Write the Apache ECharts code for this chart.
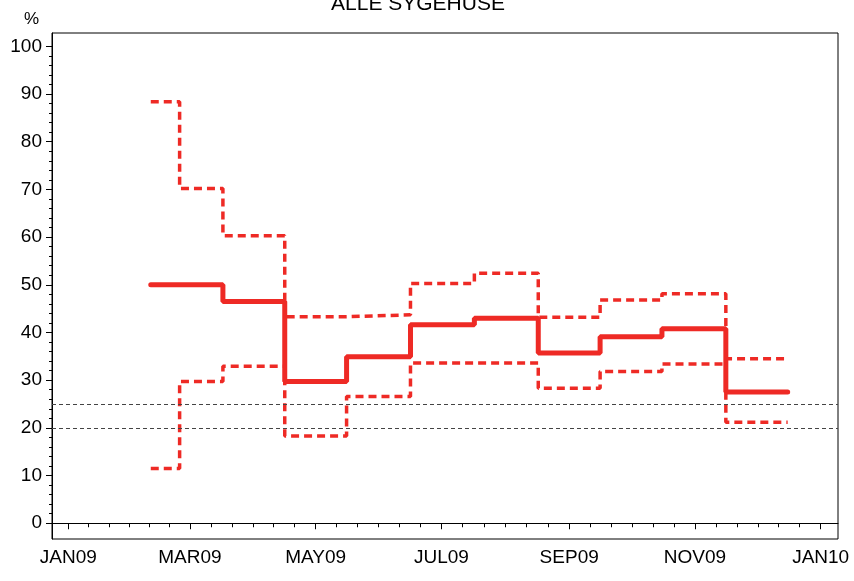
<!DOCTYPE html>
<html>
<head>
<meta charset="utf-8">
<script src="https://cdn.jsdelivr.net/npm/echarts@6/dist/echarts.min.js"></script>
<style>html,body{margin:0;padding:0;background:#fff;}#chart{width:854px;height:581px;}</style>
</head>
<body>
<div id="chart"></div>
<script>
// ---- data ----
const boundaries = ['2009-02-10','2009-02-24','2009-03-17','2009-04-16','2009-05-16','2009-06-16','2009-07-17','2009-08-17','2009-09-16','2009-10-16','2009-11-16','2009-12-16'];
const mainValues  = [50, 50, 46.5, 29.7, 34.9, 41.6, 43.0, 35.7, 39.1, 40.8, 27.5];
const upperValues = [88.4, 70.2, 60.3, 43.3, 43.7, 50.3, 52.4, 43.2, 46.8, 48.1, 34.5];
const lowerValues = [11.5, 29.7, 32.9, 18.3, 26.6, 33.6, 33.6, 28.3, 31.8, 33.4, 21.2];
const refLines = [20, 25];
const xTickDates  = ['2009-01-01','2009-03-01','2009-05-01','2009-07-01','2009-09-01','2009-11-01','2010-01-01'];
const xTickLabels = ['JAN09','MAR09','MAY09','JUL09','SEP09','NOV09','JAN10'];
const yTickValues = [0,10,20,30,40,50,60,70,80,90,100];
const titleText = 'ALLE SYGEHUSE';
const yUnit = '%';

// ---- build ----
const FONT = "'Liberation Sans', Arial, Helvetica, sans-serif";
const RED = '#ee2a25';
const ts = s => Date.parse(s);
function stepData(vals) {
  const d = vals.map((v, i) => [ts(boundaries[i]), v]);
  d.push([ts(boundaries[boundaries.length - 1]), vals[vals.length - 1]]);
  return d;
}
const xMajor = xTickDates.map(ts);
const xMinor = [];
for (let i = 0; i < xMajor.length - 1; i++) {
  for (let k = 1; k < 6; k++) xMinor.push(xMajor[i] + (xMajor[i + 1] - xMajor[i]) * k / 6);
}
const yMinor = [];
for (let v = 0; v <= 100; v += 2) if (v % 10 !== 0) yMinor.push(v);

const xMin = Date.UTC(2008, 11, 24, 2);
const xMax = Date.UTC(2010, 0, 9, 10);
const yMin = -3.3, yMax = 102.8;

const chart = echarts.init(document.getElementById('chart'), null, {renderer: 'canvas'});
const option = {
  animation: false,
  backgroundColor: '#fff',
  grid: {left: 52, right: 16, top: 33, bottom: 42, show: true, borderColor: '#000', borderWidth: 1, backgroundColor: 'transparent'},
  graphic: [
    {type: 'text', x: 418, y: -6, style: {text: titleText, font: '21px ' + FONT, fill: '#000', textAlign: 'center'}},
    {type: 'text', x: 24, y: 11, style: {text: yUnit, font: '17px ' + FONT, fill: '#000'}}
  ],
  xAxis: [
    {
      type: 'value', min: xMin, max: xMax, position: 'bottom',
      splitLine: {show: false},
      axisLine: {show: true, lineStyle: {color: '#000', width: 1}},
      axisTick: {show: true, customValues: xMajor, length: 6, lineStyle: {color: '#000', width: 1}},
      axisLabel: {
        show: true, customValues: xMajor, margin: 9, color: '#000', fontSize: 19, fontFamily: FONT,
        formatter: function (val) {
          for (let i = 0; i < xMajor.length; i++) if (Math.abs(xMajor[i] - val) < 3600000) return xTickLabels[i];
          return '';
        }
      }
    },
    {
      type: 'value', min: xMin, max: xMax, position: 'bottom', gridIndex: 0,
      splitLine: {show: false},
      axisLine: {show: false},
      axisTick: {show: true, customValues: xMinor, length: 4, lineStyle: {color: '#000', width: 1}},
      axisLabel: {show: false}
    }
  ],
  yAxis: [
    {
      type: 'value', min: yMin, max: yMax, position: 'left',
      splitLine: {show: false},
      axisLine: {show: true, lineStyle: {color: '#000', width: 1}},
      axisTick: {show: true, customValues: yTickValues, length: 6, lineStyle: {color: '#000', width: 1}},
      axisLabel: {show: true, customValues: yTickValues, margin: 10, color: '#000', fontSize: 19, fontFamily: FONT}
    },
    {
      type: 'value', min: yMin, max: yMax, position: 'left',
      splitLine: {show: false},
      axisLine: {show: false},
      axisTick: {show: true, customValues: yMinor, length: 3, lineStyle: {color: '#000', width: 1}},
      axisLabel: {show: false}
    }
  ],
  series: [
    {
      type: 'line', name: 'ref', data: [], xAxisIndex: 0, yAxisIndex: 0,
      markLine: {
        silent: true, symbol: ['none', 'none'], label: {show: false},
        lineStyle: {color: '#444', width: 1, type: [4, 3]},
        data: refLines.map(v => ({yAxis: v}))
      }
    },
    {
      type: 'line', name: 'upper', step: 'end', showSymbol: false, symbol: 'none',
      data: stepData(upperValues),
      lineStyle: {color: RED, width: 3.5, type: [8, 5]}
    },
    {
      type: 'line', name: 'lower', step: 'end', showSymbol: false, symbol: 'none',
      data: stepData(lowerValues),
      lineStyle: {color: RED, width: 3.5, type: [8, 5]}
    },
    {
      type: 'line', name: 'main', step: 'end', showSymbol: false, symbol: 'none',
      data: stepData(mainValues),
      lineStyle: {color: RED, width: 5, cap: 'round'}
    }
  ]
};
chart.setOption(option);
</script>
</body>
</html>
